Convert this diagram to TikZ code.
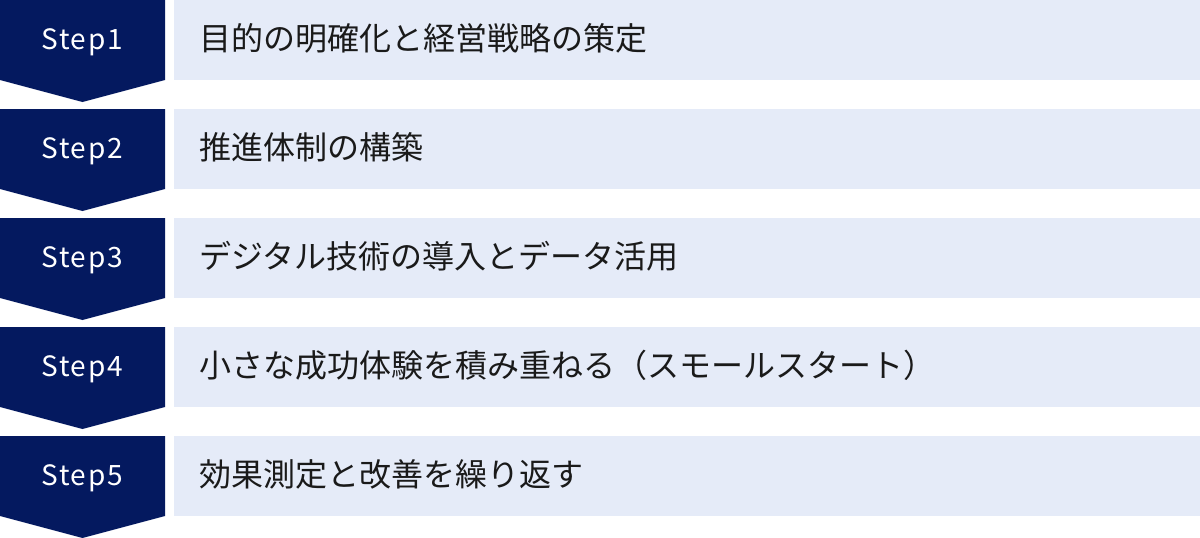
\documentclass[tikz,border=0pt]{standalone}
\usepackage{fontspec}
\newfontfamily\jp{Noto Sans CJK JP}
\newfontfamily\steplat[LetterSpace=6]{Noto Sans CJK JP}
\definecolor{navy}{HTML}{04195F}
\definecolor{lightbg}{HTML}{E5EBF8}
\definecolor{txt}{HTML}{1A1A1A}
\begin{document}
\begin{tikzpicture}[x=1pt,y=-1pt,
  arrowshape/.style={fill=navy,draw=none},
  barbox/.style={fill=lightbg,draw=none},
  steplabel/.style={text=white,font={\steplat\fontsize{28}{32}\selectfont},inner sep=0pt},
  itemlabel/.style={text=txt,font={\jp\fontsize{32}{38}\selectfont},anchor=west,inner sep=0pt}]
\useasboundingbox (0,0) rectangle (1200,538);
\foreach \i/\t in {0/目的の明確化と経営戦略の策定,1/推進体制の構築,2/デジタル技術の導入とデータ活用,3/小さな成功体験を積み重ねる（スモールスタート）,4/効果測定と改善を繰り返す}{
  \pgfmathsetmacro{\top}{\i*109}
  \pgfmathtruncatemacro{\n}{\i+1}
  \fill[arrowshape] (0,\top) -- (165,\top) -- (165,\top+80) -- (82.5,\top+102) -- (0,\top+80) -- cycle;
  \fill[barbox] (174,\top) rectangle (1200,\top+80);
  \node[steplabel] (s\n) at (82,\top+42) {Step\n};
  \node[itemlabel] (t\n) at (199,\top+38) {\t};
}
\end{tikzpicture}
\end{document}
